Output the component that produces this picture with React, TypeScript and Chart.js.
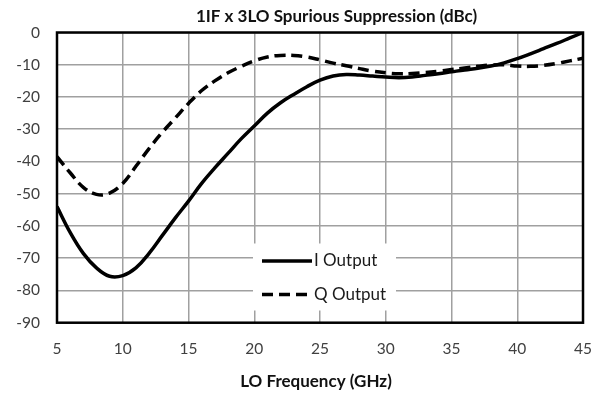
import React, { useEffect, useRef } from "react";
import { Chart, registerables } from "chart.js";

Chart.register(...registerables);

const chartTitle = "1IF x 3LO Spurious Suppression (dBc)";
const xTitle = "LO Frequency (GHz)";
const seriesNames = ["I Output", "Q Output"];

const freq = [5, 6, 7, 8, 9, 10, 11, 12, 13, 14, 15, 16, 17, 18, 19, 20, 21, 22, 23, 24, 25, 26, 27, 28, 29, 30, 31, 32, 33, 34, 35, 36, 37, 38, 39, 40, 41, 42, 43, 44, 45];
const iOutput = [-54, -62, -68.5, -73, -75.6, -75.4, -73, -68.5, -63, -57.5, -52.3, -46.8, -42, -37.5, -33, -29, -25, -21.8, -19.2, -16.8, -14.8, -13.5, -13, -13.2, -13.5, -13.8, -14, -13.8, -13.3, -12.8, -12.2, -11.6, -11.1, -10.4, -9.4, -8.1, -6.6, -5, -3.4, -1.7, 0];
const qOutput = [-38.5, -43.5, -48, -50.2, -49.8, -46.8, -41.5, -36, -31, -26.5, -22, -18, -15, -12.5, -10.5, -8.8, -7.6, -7.1, -7.1, -7.6, -8.5, -9.5, -10.3, -11.2, -12, -12.5, -12.8, -12.7, -12.4, -12, -11.5, -11, -10.5, -10.1, -10, -10.4, -10.5, -10.2, -9.6, -8.8, -8];

const xTicks = { min: 5, max: 45, step: 5 };
const yTicks = { min: -90, max: 0, step: 10 };

const FONT = "Lato, 'Open Sans', sans-serif";

export default function App() {
  const ref = useRef<HTMLCanvasElement | null>(null);

  useEffect(() => {
    if (!ref.current) return;

    const decor = {
      id: "decor",
      beforeDatasetsDraw(chart: any) {
        const { ctx, chartArea: a } = chart;
        ctx.save();
        ctx.strokeStyle = "#000";
        ctx.lineWidth = 2.5;
        ctx.strokeRect(a.left, a.top, a.right - a.left, a.bottom - a.top);
        ctx.restore();
      },
      afterDatasetsDraw(chart: any) {
        const { ctx, chartArea: a } = chart;
        ctx.save();
        // legend box
        const bx = a.left + 196;
        const by = a.top + 211;
        ctx.fillStyle = "#fff";
        ctx.fillRect(bx, by, 143, 67);
        const dsets = chart.data.datasets;
        const rows = [by + 17.5, by + 51];
        dsets.forEach((ds: any, i: number) => {
          ctx.strokeStyle = ds.borderColor;
          ctx.lineWidth = ds.borderWidth;
          ctx.setLineDash(ds.borderDash || []);
          ctx.beginPath();
          ctx.moveTo(bx + 9, rows[i]);
          ctx.lineTo(bx + 59, rows[i]);
          ctx.stroke();
          ctx.setLineDash([]);
          ctx.fillStyle = "#1a1a1a";
          ctx.font = `17px ${FONT}`;
          ctx.textAlign = "left";
          ctx.textBaseline = "middle";
          ctx.fillText(ds.label, bx + 61, rows[i]);
        });
        // titles
        ctx.fillStyle = "#111";
        ctx.font = `bold 17px ${FONT}`;
        ctx.textAlign = "center";
        ctx.textBaseline = "middle";
        ctx.fillText(chartTitle, 336.5, 16.5);
        ctx.fillText(xTitle, (a.left + a.right) / 2 - 4, 382);
        ctx.restore();
      },
    };

    const chart = new Chart(ref.current, {
      type: "line",
      data: {
        labels: freq,
        datasets: [
          {
            label: seriesNames[0],
            data: freq.map((x, i) => ({ x, y: iOutput[i] })),
            borderColor: "#000",
            borderWidth: 3.5,
            pointRadius: 0,
            tension: 0.4,
            fill: false,
          },
          {
            label: seriesNames[1],
            data: freq.map((x, i) => ({ x, y: qOutput[i] })),
            borderColor: "#000",
            borderWidth: 3.5,
            borderDash: [11, 6],
            pointRadius: 0,
            tension: 0.4,
            fill: false,
          },
        ],
      },
      options: {
        responsive: false,
        animation: false,
        layout: { padding: { top: 32.5, left: 0, right: 19.5, bottom: 0 } },
        plugins: {
          legend: { display: false },
          title: { display: false },
          tooltip: { enabled: false },
        },
        scales: {
          x: {
            type: "linear",
            min: xTicks.min,
            max: xTicks.max,
            afterFit: (s: any) => {
              s.height = 76.3;
            },
            ticks: {
              stepSize: xTicks.step,
              padding: 17,
              color: "#404040",
              font: { family: FONT, size: 15.5 },
            },
            grid: { color: "#a0a0a0", lineWidth: 1.5, drawTicks: false },
            border: { display: false },
          },
          y: {
            min: yTicks.min,
            max: yTicks.max,
            afterFit: (s: any) => {
              s.width = 57;
            },
            ticks: {
              stepSize: yTicks.step,
              padding: 17,
              color: "#404040",
              font: { family: FONT, size: 15.5 },
            },
            grid: { color: "#a0a0a0", lineWidth: 1.5, drawTicks: false },
            border: { display: false },
          },
        },
      },
      plugins: [decor],
    } as any);

    return () => chart.destroy();
  }, []);

  return (
    <div style={{ position: "fixed", left: 0, top: 0, width: 609, height: 399, background: "#fff" }}>
      <canvas ref={ref} width={609} height={399} style={{ width: 609, height: 399, display: "block" }} />
    </div>
  );
}
